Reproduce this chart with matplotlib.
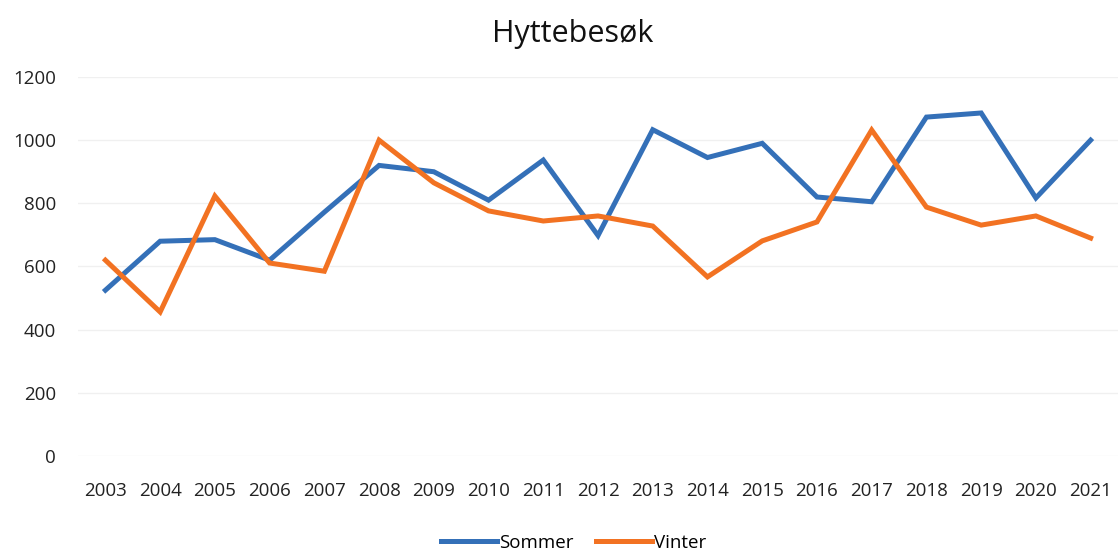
import matplotlib
matplotlib.use("Agg")
import matplotlib.pyplot as plt

years = ["2003", "2004", "2005", "2006", "2007", "2008", "2009", "2010", "2011", "2012",
         "2013", "2014", "2015", "2016", "2017", "2018", "2019", "2020", "2021"]
sommer = [525, 680, 685, 620, 772, 920, 900, 810, 937, 698,
          1033, 945, 990, 820, 805, 1073, 1086, 817, 1000]
vinter = [620, 456, 823, 611, 585, 1000, 865, 776, 744, 760,
          728, 567, 681, 741, 1032, 788, 731, 760, 690]
yticks = [0, 200, 400, 600, 800, 1000, 1200]

plt.rcParams['font.family'] = ['Open Sans', 'DejaVu Sans']

fig = plt.figure(figsize=(11.18, 5.51), dpi=100)
ax = fig.add_axes([0.0698, 0.1724, 0.9302, 0.6879])

x = list(range(len(years)))
ax.plot(x, sommer, color="#3470B8", lw=3.6, solid_joinstyle='miter', label="Sommer", zorder=3)
ax.plot(x, vinter, color="#F27222", lw=3.6, solid_joinstyle='miter', label="Vinter", zorder=3)

ax.set_xlim(-0.5, len(years) - 0.5)
ax.set_ylim(0, 1200)
ax.set_yticks(yticks)
ax.set_yticklabels([str(v) for v in yticks])
ax.set_xticks(x)
ax.set_xticklabels(years)
ax.grid(axis='y', color="#f0f0f0", lw=1)
ax.set_axisbelow(True)
for s in ax.spines.values():
    s.set_visible(False)
ax.tick_params(axis='both', length=0, labelsize=13.5, colors="#222222")
ax.tick_params(axis='y', pad=16)
ax.tick_params(axis='x', pad=19)

fig.text(0.512, 0.938, "Hyttebesøk", ha='center', va='center', fontsize=22, color="#111111")

fig.legend(loc='lower center', bbox_to_anchor=(0.513, -0.032), ncol=2, frameon=False,
           fontsize=13.5, handlelength=3.0, handletextpad=0.1, columnspacing=1.2)

fig.savefig("out.png", dpi=100, facecolor="white")
